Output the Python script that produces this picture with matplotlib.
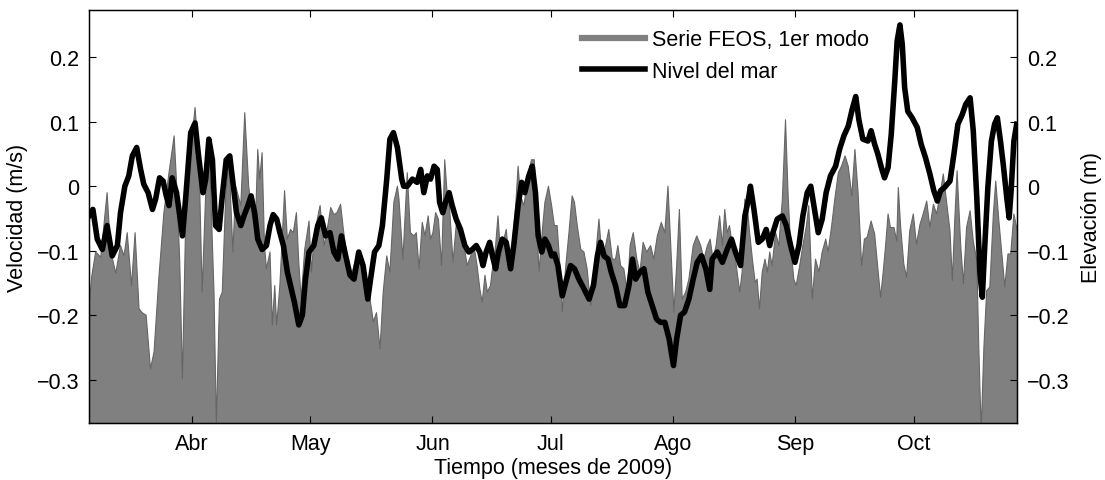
import numpy as np
import matplotlib
matplotlib.use("Agg")
import matplotlib.pyplot as plt
from matplotlib.lines import Line2D

# dia del año 2009 (1 = 1 de enero)
dia_feos = [64.9, 65.6, 66.6, 67.9, 69.5, 70.4, 71.7, 72.9, 73.8, 74.6, 75.7, 76.6, 77.6, 78.4, 79.4,
            80.5, 81.4, 82.6, 83.9, 85.2, 86.5, 87.1, 87.9, 88.6, 89.4, 90.7, 91.8, 92.8, 93.6, 94.5,
            95.5, 96.6, 97.2, 98.0, 98.7, 99.6, 100.4, 101.4, 102.1, 103.4, 104.4, 105.4, 106.3, 107.1,
            107.7, 108.2, 108.8, 109.4, 109.9, 110.8, 111.4, 112.0, 112.5, 113.3, 114.5, 115.2, 116.0,
            116.7, 117.5, 118.1, 118.7, 119.6, 120.7, 121.3, 122.1, 123.5, 124.5, 125.3, 126.2, 127.0,
            127.8, 128.7, 129.4, 130.4, 131.2, 132.1, 133.3, 134.6, 135.9, 137.0, 137.8, 138.7, 139.5,
            140.4, 141.2, 142.2, 143.1, 143.5, 144.5, 145.6, 146.4, 147.3, 147.9, 148.6, 149.4, 150.1,
            150.9, 151.5, 152.1, 152.8, 153.5, 154.3, 155.1, 155.7, 156.3, 157.2, 158.0, 158.9, 160.0,
            160.8, 161.7, 162.5, 163.3, 164.0, 164.6, 165.3, 165.9, 166.7, 167.3, 168.0, 168.6, 169.3,
            170.1, 170.7, 171.4, 172.2, 173.1, 173.7, 174.3, 175.2, 176.3, 177.1, 177.8, 178.3, 179.0,
            179.8, 180.5, 181.4, 182.2, 182.9, 183.6, 184.3, 184.9, 185.8, 186.6, 187.4, 188.0, 188.7,
            189.6, 190.4, 191.2, 192.1, 192.9, 193.6, 194.2, 195.0, 195.9, 196.7, 197.6, 198.4, 199.0,
            199.7, 200.5, 201.4, 202.1, 202.9, 203.8, 204.6, 205.4, 206.3, 207.3, 208.1, 209.0, 210.0,
            210.9, 211.7, 212.4, 213.2, 213.9, 214.6, 215.3, 216.2, 217.0, 218.1, 219.0, 220.0, 220.8,
            221.7, 222.4, 223.1, 223.9, 224.8, 225.5, 226.1, 226.7, 227.3, 228.0, 228.8, 229.9, 230.5,
            231.2, 231.8, 232.4, 233.1, 233.8, 234.3, 234.9, 235.6, 236.3, 236.9, 237.5, 238.1, 239.0,
            239.8, 240.7, 241.5, 242.2, 242.8, 243.6, 244.2, 245.1, 245.9, 246.8, 247.4, 248.3, 249.1,
            250.0, 250.8, 251.7, 252.3, 253.2, 254.0, 254.9, 255.7, 256.6, 257.4, 258.3, 259.1, 259.9,
            260.8, 261.5, 262.2, 263.2, 264.1, 264.9, 265.6, 266.3, 266.9, 267.5, 268.1, 269.0, 269.7,
            270.1, 270.7, 271.5, 272.2, 273.0, 273.9, 274.7, 275.6, 276.4, 277.3, 278.1, 279.0, 279.8,
            280.7, 281.5, 282.3, 283.2, 283.8, 284.4, 285.0, 285.9, 286.6, 287.4, 288.3, 289.1, 290.0,
            290.5, 291.1, 291.8, 292.5, 293.3, 294.2, 294.8, 295.6, 296.5, 297.1, 297.9, 298.6, 299.4,
            300.3]
vel_feos = [-0.19, -0.14, -0.102, -0.11, -0.01, -0.10, -0.135, -0.092, -0.108, -0.072, -0.154, -0.072,
            -0.19, -0.196, -0.200, -0.283, -0.257, -0.144, -0.041, 0.021, 0.078, 0.006, -0.113, -0.298,
            -0.061, 0.052, 0.122, 0.041, -0.164, -0.01, 0.041, -0.164, -0.367, -0.175, -0.164, -0.01,
            0.041, -0.102, 0.0, -0.03, 0.114, 0.0, -0.046, -0.061, 0.057, 0.011, 0.052, -0.092, -0.128,
            -0.102, -0.215, -0.154, -0.215, -0.154, -0.007, -0.082, -0.067, -0.072, -0.041, -0.118,
            -0.175, -0.098, -0.054, -0.133, -0.072, -0.030, -0.092, -0.067, -0.033, -0.044, -0.041,
            -0.028, -0.067, -0.113, -0.144, -0.123, -0.102, -0.133, -0.164, -0.21, -0.196, -0.252,
            -0.164, -0.108, -0.133, -0.025, 0.0, -0.02, -0.113, 0.021, -0.072, -0.077, -0.072, -0.128,
            -0.056, -0.077, -0.046, -0.082, -0.072, -0.041, -0.051, -0.123, 0.041, -0.010, -0.030,
            -0.118, -0.061, -0.072, -0.092, -0.123, -0.108, -0.092, -0.123, -0.159, -0.180, -0.138,
            -0.164, -0.154, -0.123, -0.092, -0.046, -0.108, -0.082, -0.067, -0.113, -0.092, -0.030,
            0.031, -0.015, -0.030, 0.021, 0.041, 0.041, -0.041, -0.133, -0.072, -0.025, 0.0, -0.030,
            -0.061, -0.061, -0.123, -0.195, -0.123, -0.072, -0.015, -0.025, -0.061, -0.098, -0.102,
            -0.128, -0.185, -0.154, -0.092, -0.051, -0.113, -0.092, -0.067, -0.113, -0.113, -0.092,
            -0.123, -0.128, -0.164, -0.092, -0.072, -0.113, -0.133, -0.087, -0.102, -0.092, -0.113,
            -0.077, -0.056, -0.072, 0.0, -0.092, -0.195, -0.123, -0.036, -0.175, -0.164, -0.144, -0.092,
            -0.077, -0.092, -0.113, -0.092, -0.082, -0.113, -0.092, -0.046, -0.092, -0.036, -0.072,
            -0.061, -0.092, -0.113, -0.164, -0.133, -0.020, -0.030, -0.072, -0.113, -0.149, -0.144,
            -0.190, -0.133, -0.113, -0.133, -0.102, -0.123, -0.072, -0.092, -0.020, 0.103, -0.020,
            -0.092, -0.144, -0.154, -0.123, -0.092, -0.061, -0.030, -0.175, -0.113, -0.133, -0.102,
            -0.082, -0.102, -0.061, -0.020, 0.021, 0.031, 0.047, 0.031, -0.015, 0.057, -0.010, -0.123,
            -0.082, -0.079, -0.054, -0.074, -0.126, -0.172, -0.131, -0.090, -0.043, -0.064, -0.064,
            -0.085, -0.002, -0.064, -0.121, -0.141, -0.069, -0.043, -0.090, -0.059, -0.043, -0.023,
            -0.064, -0.028, -0.043, -0.012, 0.019, -0.023, -0.069, -0.146, -0.054, 0.024, -0.090,
            -0.151, -0.064, -0.038, -0.085, -0.115, -0.249, -0.38, -0.249, -0.162, -0.156, -0.043,
            0.008, -0.054, -0.115, -0.156, -0.105, -0.105, -0.043, -0.07]

dia_nivel = [64.9, 65.9, 67.0, 68.3, 69.5, 70.8, 72.1, 72.9, 74.0, 75.0, 75.9, 77.0, 78.0, 78.8, 79.9,
             81.0, 81.8, 82.8, 83.7, 84.5, 85.2, 86.0, 87.1, 87.7, 88.6, 89.4, 90.7, 91.8, 92.6, 93.8,
             94.5, 95.3, 96.2, 97.0, 97.9, 98.7, 99.7, 100.6, 101.4, 102.3, 103.4, 104.2, 105.2, 106.0,
             106.9, 107.7, 108.8, 109.9, 110.8, 111.6, 112.5, 113.3, 114.2, 115.2, 116.0, 117.0, 118.1,
             119.0, 119.8, 120.7, 121.9, 122.9, 123.8, 124.9, 126.0, 127.0, 128.0, 128.9, 130.0, 131.1,
             132.1, 133.3, 134.4, 135.6, 136.3, 137.3, 138.4, 139.3, 140.4, 141.2, 142.1, 143.1, 144.2,
             144.7, 145.6, 146.9, 148.1, 149.0, 149.8, 150.7, 151.5, 152.4, 153.2, 153.8, 154.6, 155.3,
             156.2, 157.0, 158.0, 159.1, 160.2, 161.2, 162.1, 163.1, 164.0, 164.8, 165.6, 166.5, 167.2,
             168.0, 168.7, 169.7, 170.7, 171.8, 172.6, 173.7, 174.6, 175.4, 176.4, 177.3, 178.1, 178.8,
             179.7, 180.5, 181.4, 182.2, 182.9, 183.8, 184.9, 186.0, 187.0, 188.0, 189.1, 190.4, 191.7,
             192.8, 193.8, 194.6, 195.5, 196.5, 197.3, 198.4, 199.5, 200.7, 201.8, 202.7, 203.5, 204.6,
             205.6, 206.6, 207.7, 208.8, 209.8, 210.9, 212.0, 213.1, 213.9, 214.9, 215.9, 217.0, 218.1,
             219.1, 220.2, 221.3, 222.3, 222.9, 224.2, 225.5, 226.7, 227.8, 228.8, 230.1, 231.2, 232.1,
             232.6, 233.5, 234.6, 235.6, 236.6, 237.5, 238.3, 239.4, 240.7, 241.7, 242.8, 243.9, 244.9,
             245.9, 247.0, 247.9, 248.7, 249.8, 250.8, 251.8, 252.9, 254.2, 255.2, 256.3, 257.4, 258.4,
             259.3, 260.1, 261.1, 262.4, 263.2, 264.1, 264.9, 265.8, 266.6, 267.5, 268.3, 269.2, 269.8,
             270.5, 271.1, 271.7, 272.5, 273.6, 274.9, 275.9, 277.0, 278.1, 279.1, 280.0, 280.8, 281.8,
             283.2, 284.2, 285.2, 286.3, 287.2, 288.3, 289.1, 290.0, 290.8, 291.4, 292.0, 292.8, 293.7,
             294.5, 295.2, 296.0, 296.7, 297.6, 298.2, 298.7, 299.4, 300.1]
nivel_mar = [-0.046, -0.036, -0.082, -0.098, -0.061, -0.108, -0.092, -0.041, 0.0, 0.016, 0.047, 0.060,
             0.026, 0.003, -0.010, -0.036, -0.020, 0.013, 0.008, -0.015, -0.030, 0.013, -0.010, -0.036,
             -0.077, -0.020, 0.083, 0.098, 0.052, -0.010, 0.011, 0.073, 0.041, -0.061, -0.067, -0.015,
             0.041, 0.047, 0.006, -0.041, -0.061, -0.046, -0.030, -0.015, -0.041, -0.082, -0.098, -0.092,
             -0.061, -0.044, -0.051, -0.072, -0.092, -0.133, -0.154, -0.180, -0.215, -0.200, -0.144,
             -0.102, -0.092, -0.061, -0.049, -0.077, -0.072, -0.102, -0.113, -0.077, -0.108, -0.138,
             -0.144, -0.102, -0.123, -0.175, -0.144, -0.102, -0.092, -0.061, 0.011, 0.073, 0.083, 0.06,
             0.011, 0.0, 0.0, 0.011, 0.006, 0.026, -0.010, 0.016, 0.011, 0.031, 0.026, -0.025, -0.041,
             -0.025, -0.010, -0.030, -0.051, -0.067, -0.092, -0.102, -0.098, -0.092, -0.102, -0.123,
             -0.102, -0.087, -0.108, -0.128, -0.102, -0.082, -0.087, -0.128, -0.092, -0.030, 0.006,
             -0.010, 0.016, 0.031, -0.010, -0.077, -0.102, -0.082, -0.092, -0.108, -0.105, -0.123,
             -0.170, -0.144, -0.123, -0.128, -0.144, -0.159, -0.175, -0.154, -0.108, -0.087, -0.108,
             -0.113, -0.133, -0.154, -0.185, -0.185, -0.154, -0.113, -0.144, -0.133, -0.128, -0.164,
             -0.185, -0.206, -0.211, -0.211, -0.237, -0.278, -0.237, -0.200, -0.195, -0.175, -0.144,
             -0.118, -0.108, -0.128, -0.16, -0.113, -0.102, -0.118, -0.098, -0.082, -0.102, -0.123,
             -0.046, -0.020, 0.0, -0.036, -0.087, -0.082, -0.067, -0.092, -0.072, -0.051, -0.046, -0.061,
             -0.092, -0.118, -0.092, -0.046, -0.010, 0.0, -0.030, -0.072, -0.051, -0.010, 0.016, 0.031,
             0.057, 0.078, 0.093, 0.119, 0.139, 0.103, 0.073, 0.070, 0.086, 0.065, 0.050, 0.029, 0.013,
             0.029, 0.080, 0.163, 0.225, 0.250, 0.220, 0.153, 0.116, 0.106, 0.091, 0.065, 0.044, 0.019,
             -0.007, -0.023, -0.007, -0.002, 0.008, 0.050, 0.096, 0.111, 0.127, 0.137, 0.086, -0.018,
             -0.136, -0.172, -0.095, -0.002, 0.070, 0.096, 0.106, 0.070, 0.034, -0.018, -0.049, -0.007,
             0.070, 0.096]

meses = ["Abr", "May", "Jun", "Jul", "Ago", "Sep", "Oct"]
dia_mes = [91, 121, 152, 182, 213, 244, 274]
yticks = [-0.3, -0.2, -0.1, 0, 0.1, 0.2]
ytick_labels = ["\u22120.3", "\u22120.2", "\u22120.1", "0", "0.1", "0.2"]

plt.rcParams['font.family'] = ['Liberation Sans', 'DejaVu Sans']
plt.rcParams['font.size'] = 15.5

fig = plt.figure(figsize=(11.05, 4.81), dpi=100)
ax = fig.add_axes([0.0805, 0.1185, 0.8399, 0.8585])

ymin, ymax = -0.367, 0.273
ax.fill_between(dia_feos, vel_feos, -1, color="#808080", lw=0)
ax.plot(dia_feos, vel_feos, color="#666666", lw=0.8)
ax.set_xlim(64.9, 300.2)
ax.set_ylim(ymin, ymax)
ax.set_xticks(dia_mes)
ax.set_xticklabels(meses)
ax.set_yticks(yticks)
ax.set_yticklabels(ytick_labels)
ax.tick_params(direction="in", length=5, width=0.8, top=True, pad=7, colors="black")
ax.set_xlabel("Tiempo (meses de 2009)", labelpad=2)
ax.set_ylabel("Velocidad (m/s)", labelpad=6)
for s in ax.spines.values():
    s.set_linewidth(1.0)

ax2 = ax.twinx()
ax2.plot(dia_nivel, nivel_mar, color="black", lw=4, solid_joinstyle="round")
ax2.set_ylim(ymin, ymax)
ax2.set_yticks(yticks)
ax2.set_yticklabels(ytick_labels)
ax2.tick_params(direction="in", length=5, width=0.8, pad=7)
ax2.set_ylabel("Elevación (m)", labelpad=8)

handles = [Line2D([], [], color="#808080", lw=4.5), Line2D([], [], color="black", lw=4)]
ax2.legend(handles, ["Serie FEOS, 1er modo", "Nivel del mar"], loc="upper left",
           bbox_to_anchor=(0.51, 1.0), frameon=False, handlelength=2.95,
           handletextpad=0.3, labelspacing=0.48, fontsize=15.5)

fig.savefig("out.png", dpi=100)
